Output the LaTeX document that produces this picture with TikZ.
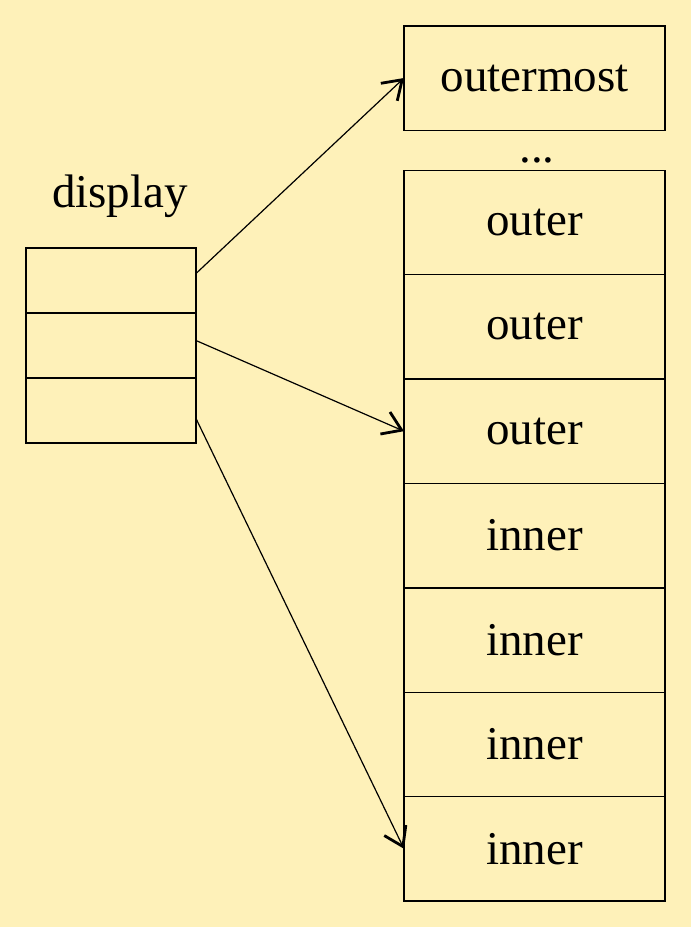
\documentclass[tikz,border=0pt]{standalone}
\usepackage{fontspec}
\setmainfont{Liberation Serif}
\usepackage{xcolor}
\usepackage{tikz}
\usetikzlibrary{arrows.meta, positioning}
\definecolor{slidebg}{HTML}{FEF1B9}

\begin{document}
\begin{tikzpicture}[
  x=0.5pt, y=-0.5pt,
  frame/.style={rectangle, draw=black, line width=0.7pt, outer sep=0pt,
               minimum width=130.5pt, minimum height=52.2pt, inner sep=0pt,
               font=\fontsize{23.5}{28}\selectfont},
  cell/.style={rectangle, draw=black, line width=0.7pt, outer sep=0pt,
               minimum width=85pt, minimum height=32.5pt, inner sep=0pt},
  arrow/.style={-{Straight Barb[length=9pt, width=12pt, line width=1.4pt]}, line width=0.6pt},
  label/.style={font=\fontsize{23.5}{28}\selectfont}
]
  \fill[slidebg] (0,0) rectangle (691,927);
  \useasboundingbox (0,0) rectangle (691,927);

  % frame stack
  \node[frame] at (534.5,78) (top) {outermost};
  \node[frame, below=20pt of top] (f1) {outer};
  \node[frame, below=0pt of f1] (f2) {outer};
  \node[frame, below=0pt of f2] (f3) {outer};
  \node[frame, below=0pt of f3] (f4) {inner};
  \node[frame, below=0pt of f4] (f5) {inner};
  \node[frame, below=0pt of f5] (f6) {inner};
  \node[frame, below=0pt of f6] (f7) {inner};
  \node[label, inner sep=0pt] at (537,160) (dots) {...};

  % display vector
  \node[cell] at (111,280.5) (d1) {};
  \node[cell, below=0pt of d1] (d2) {};
  \node[cell, below=0pt of d2] (d3) {};
  \node[label] at (120,196) (disp) {display};

  \draw[arrow] ([yshift=3.5pt]d1.east) -- (top.west);
  \draw[arrow] ([yshift=2.5pt]d2.east) -- (f3.west);
  \draw[arrow] ([yshift=-4pt]d3.east) -- (f7.west);
\end{tikzpicture}
\end{document}
